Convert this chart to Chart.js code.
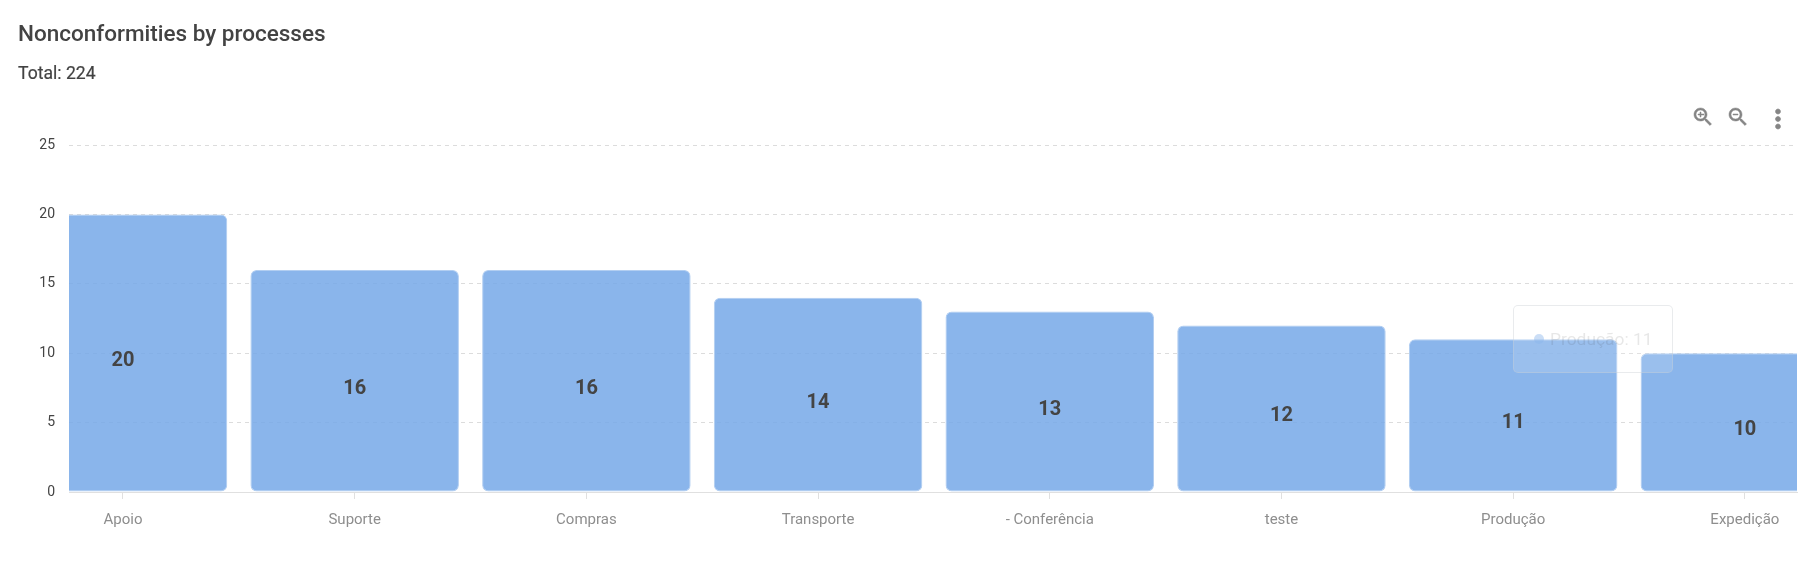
<!DOCTYPE html>
<html>
<head>
<meta charset="utf-8">
<title>Nonconformities by processes</title>
<script src="https://cdn.jsdelivr.net/npm/chart.js@4/dist/chart.umd.min.js"></script>
<style>
    html, body { margin: 0; padding: 0; background: #fff; overflow: hidden; }
    body { width: 1816px; height: 570px; position: relative; font-family: Roboto, sans-serif; }
    #wrap { position: absolute; left: 0; top: 0; width: 1816px; height: 570px; }
    #title { position: absolute; left: 18px; top: 19px; font-size: 22.5px; font-weight: 500; line-height: 28px; color: #434343; }
    #total { position: absolute; left: 18px; top: 62px; font-size: 17.6px; font-weight: 400; -webkit-text-stroke: 0.2px #434343; line-height: 22px; color: #434343; }
    .icon { position: absolute; fill: #858585; stroke: #858585; stroke-width: 0.5; }
    #tip { position: absolute; left: 1513px; top: 305px; width: 158px; height: 66px; box-sizing: content-box;
           border: 1px solid rgba(200, 205, 210, 0.4); border-radius: 5px; background: rgba(255, 255, 255, 0.14);
           font-size: 17.4px; line-height: 66px; color: rgba(70, 70, 70, 0.13); white-space: nowrap; }
    #tip i { position: absolute; left: 20px; top: 28px; width: 10px; height: 10px; border-radius: 50%; background: rgba(139, 181, 235, 0.45); }
    #tip span { position: absolute; left: 36px; top: 0; }
</style>
</head>
<body>
<div id="wrap"><canvas id="nonconformitiesChart" width="1816" height="570"></canvas></div>
<div id="title">Nonconformities by processes</div>
<div id="total">Total: 224</div>

<svg class="icon" style="left:1691px;top:105px" width="24" height="24" viewBox="0 0 24 24">
    <path d="M15.5 14h-.79l-.28-.27C15.41 12.59 16 11.11 16 9.5 16 5.91 13.09 3 9.5 3S3 5.91 3 9.5 5.91 16 9.5 16c1.61 0 3.09-.59 4.23-1.57l.27.28v.79l5 4.99L20.49 19l-4.99-5zm-6 0C7.01 14 5 11.99 5 9.5S7.01 5 9.5 5 14 7.01 14 9.5 11.99 14 9.5 14z"/>
    <path d="M12 10h-2v2H9v-2H7V9h2V7h1v2h3v1z"/>
</svg>
<svg class="icon" style="left:1726px;top:105px" width="24" height="24" viewBox="0 0 24 24">
    <path d="M15.5 14h-.79l-.28-.27C15.41 12.59 16 11.11 16 9.5 16 5.91 13.09 3 9.5 3S3 5.91 3 9.5 5.91 16 9.5 16c1.61 0 3.09-.59 4.23-1.57l.27.28v.79l5 4.99L20.49 19l-4.99-5zm-6 0C7.01 14 5 11.99 5 9.5S7.01 5 9.5 5 14 7.01 14 9.5 11.99 14 9.5 14z"/>
    <path d="M7 9h5v1H7z"/>
</svg>
<svg class="icon" style="left:1763px;top:104px" width="30" height="30" viewBox="0 0 24 24">
    <path d="M12 8c1.1 0 2-.9 2-2s-.9-2-2-2-2 .9-2 2 .9 2 2 2zm0 2c-1.1 0-2 .9-2 2s.9 2 2 2 2-.9 2-2-.9-2-2-2zm0 6c-1.1 0-2 .9-2 2s.9 2 2 2 2-.9 2-2-.9-2-2-2z"/>
</svg>

<div id="tip"><i></i><span>Produção: 11</span></div>

<script>
const categories = ['Apoio', 'Suporte', 'Compras', 'Transporte', '- Conferência', 'teste', 'Produção', 'Expedição'];
const occurrences = [20, 16, 16, 14, 13, 12, 11, 10];
const yTicks = [0, 5, 10, 15, 20, 25];

// the source chart is zoomed in a bit, so the first and last bars get cut by the plot area
const viewMin = -0.233;
const viewMax = 7.225;

// value inside each bar, same as the apex data labels
const barLabels = {
    id: 'barLabels',
    afterDatasetsDraw(chart) {
        const ctx = chart.ctx;
        const meta = chart.getDatasetMeta(0);
        ctx.save();
        ctx.font = '700 20px Roboto';
        ctx.fillStyle = '#444444';
        ctx.textAlign = 'center';
        ctx.textBaseline = 'middle';
        meta.data.forEach((bar, index) => {
            const mid = (bar.y + bar.base) / 2;
            ctx.fillText(occurrences[index], bar.x, mid + 8);
        });
        ctx.restore();
    }
};

new Chart(document.getElementById('nonconformitiesChart'), {
    type: 'bar',
    data: {
        datasets: [{
            data: occurrences.map((value, index) => ({ x: index, y: value })),
            backgroundColor: 'rgba(118, 168, 231, 0.85)',
            borderColor: 'rgba(170, 201, 240, 0.9)',
            borderWidth: 1,
            borderSkipped: false,
            borderRadius: 6,
            barPercentage: 0.9,
            categoryPercentage: 1
        }]
    },
    options: {
        responsive: false,
        animation: false,
        layout: { padding: { top: 145, right: 19, left: 0, bottom: 0 } },
        plugins: {
            legend: { display: false },
            tooltip: { enabled: false },
            title: { display: false }
        },
        scales: {
            x: {
                type: 'linear',
                offset: false,
                min: viewMin,
                max: viewMax,
                afterFit: scale => { scale.height = 78; },
                border: { display: true, color: '#e0e0e0', width: 1 },
                grid: { offset: false, drawOnChartArea: false, drawTicks: true, tickLength: 7, tickColor: '#e0e0e0' },
                ticks: {
                    stepSize: 1,
                    includeBounds: false,
                    autoSkip: false,
                    maxRotation: 0,
                    padding: 12,
                    color: '#8e8e8e',
                    font: { family: 'Roboto', size: 15 },
                    callback: value => categories[Math.round(value)]
                }
            },
            y: {
                min: 0,
                max: 25,
                afterFit: scale => { scale.width = 69; },
                afterBuildTicks: scale => { scale.ticks = yTicks.map(value => ({ value })); },
                border: { display: false, dash: [4, 4] },
                grid: { color: '#dcdcdc', drawTicks: false },
                ticks: {
                    padding: 14,
                    color: '#444444',
                    font: { family: 'Roboto', size: 14 }
                }
            }
        }
    },
    plugins: [barLabels]
});
</script>
</body>
</html>
